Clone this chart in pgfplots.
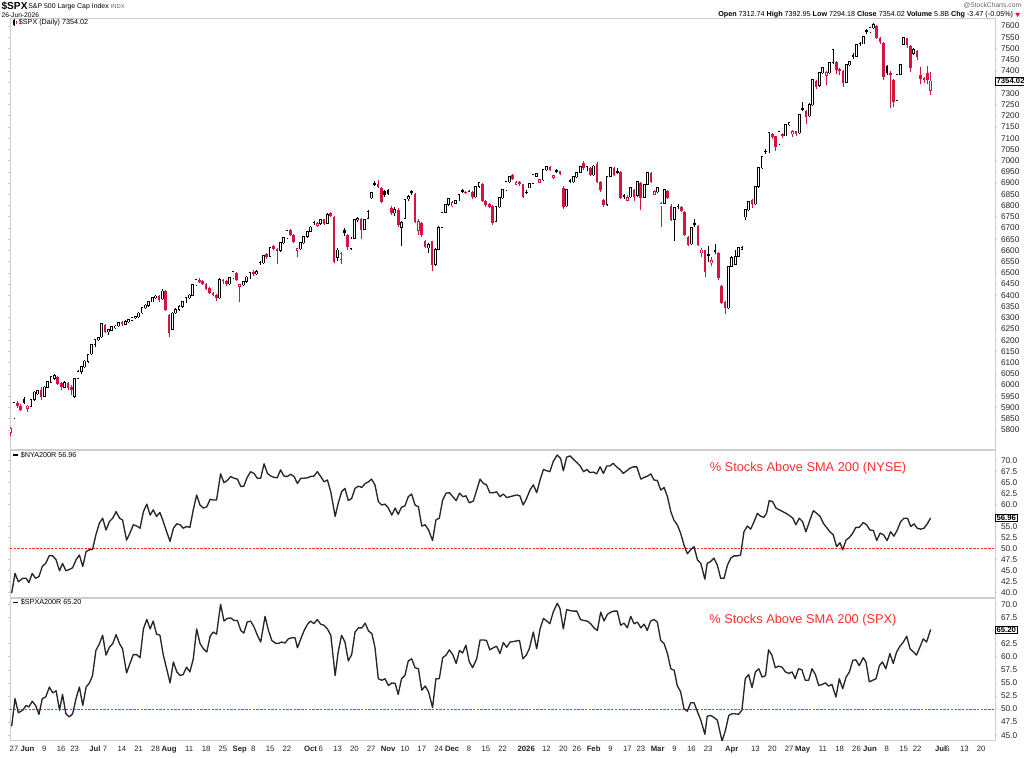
\documentclass[border=0pt]{standalone}
\usepackage{pgfplots}
\pgfplotsset{compat=1.18}
\usepackage{pgfplotstable}
\usepackage{fontspec}
\setmainfont{Liberation Sans}
\definecolor{cred}{RGB}{214,20,64}
\definecolor{tred}{RGB}{255,45,45}
\definecolor{frm}{RGB}{205,205,205}
\definecolor{txt}{RGB}{35,35,35}
\pgfplotsset{
  panel/.style={scale only axis, width=738.75pt, xmin=-1.19, xmax=291.1,
    axis line style={frm, line width=0.6pt},
    xtick=\empty, yticklabel pos=right,
    tick align=outside, major tick length=1.5pt,
    ytick style={frm, line width=0.4pt},
    yticklabel style={font=\fontsize{6.2}{7}\selectfont, text=txt, xshift=-0.5pt,
      /pgf/number format/assume math mode=true, /pgf/number format/1000 sep={}},
    clip mode=individual},
  cdl/.style={forget plot, draw=none, mark=none, restrict x to domain=-5:400},
}
\pgfplotstableread{
i o h l c k
-1 5790 5812 5775 5805 2
0 5855 5925 5848 5920 1
1 5922 5930 5898 5905 4
2 5908 5915 5885 5890 4
3 5938 5945 5915 5920 3
4 5897 5912 5880 5905 2
5 5905 5940 5900 5935 1
6 5936 5972 5930 5968 1
7 5962 5980 5955 5975 1
8 5978 5992 5935 5945 4
9 5950 5995 5945 5990 1
10 5992 6020 5985 6015 1
11 6012 6040 6008 6036 1
12 6030 6048 6022 6040 1
13 6038 6042 6000 6005 4
14 6010 6015 5980 5990 4
15 5992 6018 5985 6010 1
16 6008 6012 5978 5985 4
17 5990 5998 5955 5980 4
18 5950 6032 5942 6027 1
19 6030 6065 6025 6060 1
20 6062 6085 6050 6080 1
21 6082 6110 6075 6105 1
22 6105 6140 6098 6134 1
23 6140 6185 6135 6180 1
24 6182 6205 6170 6200 1
25 6202 6215 6195 6210 1
26 6215 6278 6210 6272 1
27 6268 6272 6230 6236 4
28 6238 6250 6225 6245 1
29 6245 6262 6240 6258 1
30 6256 6268 6250 6262 1
31 6264 6282 6258 6277 1
32 6280 6285 6262 6270 4
33 6272 6288 6266 6281 1
34 6282 6295 6276 6290 1
35 6290 6304 6284 6299 1
36 6300 6309 6295 6303 1
37 6305 6326 6300 6320 1
38 6322 6348 6318 6343 1
39 6345 6360 6338 6355 1
40 6356 6376 6350 6370 1
41 6372 6392 6368 6388 1
42 6390 6402 6383 6395 1
43 6398 6402 6372 6380 4
44 6385 6428 6380 6418 1
45 6420 6425 6330 6335 4
46 6310 6318 6215 6230 4
47 6250 6325 6245 6320 1
48 6322 6342 6315 6335 1
49 6338 6356 6330 6350 1
50 6352 6375 6345 6370 1
51 6372 6392 6365 6388 1
52 6390 6405 6384 6400 1
53 6400 6450 6395 6446 1
54 6448 6472 6442 6468 1
55 6470 6475 6455 6460 4
56 6462 6468 6444 6450 4
57 6452 6456 6425 6430 4
58 6432 6436 6405 6410 4
59 6412 6415 6395 6400 4
60 6402 6405 6375 6388 4
61 6390 6475 6385 6470 1
62 6468 6472 6450 6462 4
63 6465 6468 6440 6450 4
64 6452 6482 6448 6477 1
65 6478 6510 6472 6504 1
66 6500 6505 6465 6470 4
67 6440 6452 6370 6446 2
68 6448 6465 6440 6460 1
69 6462 6485 6455 6480 1
70 6478 6505 6472 6500 1
71 6505 6512 6488 6495 4
72 6496 6512 6490 6505 1
73 6548 6552 6535 6542 3
74 6545 6580 6540 6575 1
75 6585 6590 6562 6570 4
76 6575 6615 6570 6611 1
77 6620 6624 6600 6605 4
78 6608 6612 6540 6598 4
79 6600 6638 6595 6633 1
80 6635 6660 6630 6655 1
81 6657 6693 6650 6688 1
82 6690 6695 6662 6669 4
83 6668 6672 6632 6639 4
84 6600 6612 6570 6606 2
85 6608 6638 6602 6633 1
86 6635 6665 6628 6660 1
87 6662 6688 6656 6683 1
88 6685 6708 6680 6703 1
89 6728 6732 6715 6723 3
90 6712 6726 6706 6718 2
91 6720 6740 6715 6735 1
92 6738 6742 6712 6718 4
93 6720 6765 6716 6760 1
94 6765 6772 6748 6753 4
95 6750 6755 6545 6550 4
96 6570 6610 6555 6600 1
97 6560 6595 6540 6585 2
98 6690 6700 6665 6677 3
99 6670 6675 6600 6617 4
100 6610 6658 6600 6650 1
101 6655 6742 6650 6735 1
102 6738 6750 6725 6742 1
103 6742 6745 6650 6690 4
104 6695 6740 6690 6735 1
105 6745 6780 6740 6771 1
106 6835 6862 6830 6856 1
107 6900 6908 6885 6891 3
108 6895 6915 6878 6884 4
109 6880 6884 6810 6817 4
110 6865 6870 6840 6847 3
111 6870 6875 6845 6850 3
112 6790 6800 6760 6767 4
113 6768 6795 6755 6780 1
114 6778 6790 6705 6713 4
115 6705 6730 6620 6722 1
116 6745 6830 6740 6825 1
117 6830 6845 6820 6838 1
118 6865 6870 6848 6856 3
119 6850 6855 6720 6728 4
120 6690 6740 6670 6726 2
121 6720 6725 6660 6669 4
122 6640 6645 6610 6617 4
123 6612 6632 6590 6625 1
124 6640 6642 6510 6535 4
125 6540 6610 6530 6602 1
126 6605 6708 6600 6700 1
127 6705 6772 6698 6767 1
128 6770 6808 6765 6802 1
129 6805 6835 6800 6829 1
130 6800 6818 6795 6811 2
131 6810 6825 6805 6820 1
132 6822 6852 6818 6847 1
133 6868 6872 6855 6860 3
134 6862 6866 6850 6855 4
135 6848 6868 6845 6862 1
136 6860 6864 6830 6838 4
137 6840 6888 6835 6883 1
138 6885 6905 6880 6900 1
139 6895 6900 6815 6820 4
140 6822 6826 6795 6802 4
141 6805 6810 6788 6795 4
142 6798 6802 6715 6722 4
143 6730 6798 6725 6793 1
144 6795 6838 6790 6833 1
145 6835 6874 6830 6869 1
146 6870 6910 6865 6905 1
147 6906 6932 6900 6927 1
148 6935 6940 6915 6920 4
149 6895 6910 6890 6902 2
150 6905 6910 6888 6895 4
151 6895 6898 6832 6840 4
152 6862 6868 6850 6856 3
153 6880 6900 6876 6896 1
154 6900 6941 6895 6936 1
155 6932 6945 6928 6940 1
156 6905 6920 6900 6913 2
157 6915 6963 6910 6958 1
158 6960 6976 6955 6971 1
159 6972 6975 6952 6958 4
160 6925 6938 6920 6931 2
161 6958 6962 6945 6950 3
162 6952 6955 6935 6940 4
163 6880 6885 6785 6793 4
164 6800 6875 6795 6869 1
165 6912 6916 6900 6905 3
166 6906 6932 6900 6927 1
167 6928 6950 6922 6945 1
168 6948 6976 6944 6971 1
169 6990 6998 6958 6965 4
170 6960 6976 6955 6971 1
171 6968 6972 6930 6936 4
172 6938 6982 6932 6975 1
173 6985 6995 6900 6905 4
174 6905 6910 6862 6869 4
175 6825 6830 6795 6802 4
176 6805 6932 6800 6927 1
177 6930 6972 6925 6967 1
178 6968 6972 6930 6936 4
179 6955 6968 6940 6945 3
180 6948 6952 6828 6833 4
181 6845 6850 6830 6838 3
182 6825 6845 6820 6835 2
183 6840 6882 6835 6878 1
184 6870 6875 6820 6840 4
185 6845 6910 6840 6905 1
186 6900 6905 6780 6833 4
187 6838 6896 6832 6891 1
188 6895 6950 6890 6945 1
189 6945 6950 6900 6905 4
190 6850 6870 6845 6860 2
191 6862 6882 6855 6878 1
192 6800 6815 6705 6807 2
193 6810 6875 6805 6869 1
194 6865 6870 6828 6833 4
195 6800 6805 6730 6735 4
196 6740 6795 6640 6789 1
197 6800 6806 6785 6792 3
198 6792 6796 6770 6776 4
199 6770 6774 6662 6669 4
200 6660 6665 6618 6624 4
201 6630 6705 6625 6700 1
202 6720 6740 6705 6713 3
203 6710 6714 6618 6624 4
204 6590 6612 6570 6600 2
205 6600 6604 6480 6505 4
206 6585 6620 6550 6575 3
207 6545 6570 6530 6553 2
208 6600 6630 6585 6593 3
209 6590 6595 6470 6477 4
210 6440 6445 6360 6366 4
211 6370 6375 6315 6343 4
212 6345 6532 6340 6526 1
213 6530 6575 6525 6566 1
214 6540 6600 6535 6571 1
215 6575 6615 6570 6611 1
216 6605 6618 6600 6612 1
217 6750 6785 6735 6780 1
218 6782 6822 6776 6816 1
219 6825 6830 6790 6805 4
220 6808 6888 6802 6883 1
221 6885 6972 6880 6967 1
222 6968 7020 6962 7016 1
223 7045 7050 7030 7038 3
224 7040 7128 7035 7123 1
225 7120 7124 7095 7105 4
226 7108 7112 7045 7060 4
227 7075 7132 7070 7127 1
228 7118 7122 7102 7110 4
229 7112 7164 7108 7159 1
230 7160 7174 7155 7168 1
231 7120 7135 7105 7127 2
232 7130 7134 7110 7120 4
233 7125 7208 7120 7203 1
234 7235 7260 7220 7226 3
235 7222 7225 7165 7194 4
236 7200 7255 7195 7248 1
237 7250 7365 7245 7359 1
238 7355 7360 7320 7330 4
239 7335 7395 7330 7390 1
240 7392 7418 7386 7413 1
241 7380 7398 7337 7390 2
242 7392 7440 7388 7435 1
243 7438 7498 7432 7493 1
244 7440 7445 7385 7404 4
245 7410 7415 7380 7400 4
246 7398 7402 7330 7346 4
247 7350 7432 7345 7426 1
248 7428 7445 7420 7440 1
249 7470 7480 7455 7462 3
250 7465 7520 7460 7515 1
251 7526 7530 7512 7520 3
252 7522 7556 7518 7551 1
253 7580 7585 7566 7573 3
254 7575 7596 7570 7591 1
255 7592 7612 7588 7605 1
256 7600 7604 7540 7547 4
257 7545 7550 7520 7529 4
258 7525 7530 7360 7373 4
259 7420 7428 7380 7390 3
260 7392 7400 7234 7382 4
261 7360 7365 7240 7261 4
262 7270 7388 7265 7382 1
263 7385 7432 7380 7426 1
264 7520 7552 7515 7547 1
265 7545 7548 7500 7515 4
266 7512 7516 7395 7413 4
267 7480 7500 7470 7493 1
268 7488 7492 7450 7462 4
269 7380 7417 7340 7365 4
270 7368 7372 7345 7360 4
271 7390 7420 7340 7357.49 4
272 7312.74 7392.95 7294.18 7354.02 2
}\spx
\begin{document}
\begin{tikzpicture}
\path[use as bounding box] (0,0) rectangle (768pt,567.75pt);
% ---------------- Panel 1: candles
\begin{axis}[panel, at={(7.5pt,231pt)}, anchor=south west, height=323.25pt,
  ymin=5715, ymax=7635.7,
  ytick={5800,5850,...,7300,7400,7450,7500,7550,7600},
  extra y ticks={7350}, extra y tick labels={}, extra y tick style={ytick style={frm}}]
\addplot[cdl, error bars/.cd, y dir=plus, y explicit, error mark=none,
  error bar style={draw=black, line width=0.5pt}]
  table[x expr={ifthenelse(\thisrow{k}==1||\thisrow{k}==3,\thisrow{i},1000)}, y=l, y error expr=\thisrow{h}-\thisrow{l}] {\spx};
\addplot[cdl, error bars/.cd, y dir=plus, y explicit, error mark=none,
  error bar style={draw=cred, line width=0.5pt}]
  table[x expr={ifthenelse(\thisrow{k}==2||\thisrow{k}==4,\thisrow{i},1000)}, y=l, y error expr=\thisrow{h}-\thisrow{l}] {\spx};
\addplot[cdl, error bars/.cd, y dir=plus, y explicit, error mark=none,
  error bar style={draw=black, line width=2pt}]
  table[x expr={ifthenelse(\thisrow{k}==3,\thisrow{i},1000)}, y=c, y error expr={max(\thisrow{o}-\thisrow{c},3)}] {\spx};
\addplot[cdl, error bars/.cd, y dir=plus, y explicit, error mark=none,
  error bar style={draw=cred, line width=2pt}]
  table[x expr={ifthenelse(\thisrow{k}==4,\thisrow{i},1000)}, y=c, y error expr={max(\thisrow{o}-\thisrow{c},3)}] {\spx};
\addplot[cdl, error bars/.cd, y dir=plus, y explicit, error mark=none,
  error bar style={draw=black, line width=2pt}]
  table[x expr={ifthenelse(\thisrow{k}==1,\thisrow{i},1000)}, y expr=\thisrow{o}-3, y error expr=\thisrow{c}-\thisrow{o}+6] {\spx};
\addplot[cdl, error bars/.cd, y dir=plus, y explicit, error mark=none,
  error bar style={draw=cred, line width=2pt}]
  table[x expr={ifthenelse(\thisrow{k}==2,\thisrow{i},1000)}, y expr=\thisrow{o}-3, y error expr=\thisrow{c}-\thisrow{o}+6] {\spx};
\addplot[cdl, error bars/.cd, y dir=plus, y explicit, error mark=none,
  error bar style={draw=white, line width=0.85pt}]
  table[x expr={ifthenelse(\thisrow{k}<3,\thisrow{i},1000)}, y=o, y error expr=\thisrow{c}-\thisrow{o}] {\spx};
\node[draw=black, fill=white, inner sep=0.7pt, line width=0.4pt, anchor=west,
  font=\fontsize{5.8}{6}\selectfont\bfseries, xshift=0.3pt] at (axis cs:291.1,7354.02) {7354.02};
\end{axis}
% ---------------- Panel 2: NYSE breadth
\begin{axis}[panel, at={(7.5pt,120pt)}, anchor=south west, height=110.25pt,
  ymin=38.93, ymax=72.44,
  ytick={40,42.5,45,47.5,50,52.5,55,60,62.5,65,67.5,70},
  yticklabel style={/pgf/number format/fixed, /pgf/number format/fixed zerofill, /pgf/number format/precision=1}]
\addplot[tred, line width=0.6pt, dash pattern=on 1.8pt off 1pt] coordinates {(-1.19,50) (291.1,50)};
\addplot[black!85, line width=1pt, line join=round] coordinates {
(-0.7,39.8) (0.3,44.3) (1.3,42.4) (2.6,43.2) (3.6,43.2) (4.4,42.2) (5.4,44.3) (6.4,43.2) (7.4,43.6) (8.4,45.9) (9.4,46.6) (10.5,48.4) (11.5,48.3) (12.5,47.4) (13.5,44.9) (14.4,46.6) (15.4,44.9) (16.4,45.2) (17.4,45.6) (18.4,47.4) (19.4,48.5) (20.4,45.9) (21.4,49.3) (22.4,49.7) (23.3,49.8) (24.3,53.1) (25.3,55.7) (26.3,56.9) (27.3,54.2) (28.3,56.1) (29.3,56.9) (30.3,58.4) (31.3,56.9) (32.2,56.5) (33.4,51.9) (34.4,53.5) (35.4,55.4) (36.4,55.1) (37.4,54.6) (38.4,58.4) (39.4,60.1) (40.4,57.6) (41.3,58.8) (42.3,57.3) (43.3,58.2) (44.3,56.1) (45.3,53.8) (46.3,51.6) (47.3,54.6) (48.3,55.6) (49.3,55.4) (50.2,54.6) (51.2,55.0) (52.2,54.8) (53.2,58.8) (54.2,62.2) (55.2,59.9) (56.2,59.2) (57.2,59.5) (58.2,61.2) (59.1,61.05) (60.1,61.05) (61.3,67.0) (62.3,65.0) (63.3,65.5) (64.3,66.4) (65.3,66.0) (66.3,65.8) (67.3,64.1) (68.2,64.2) (69.2,66.2) (70.2,67.5) (71.2,67.1) (72.2,66.0) (73.2,66.0) (74.2,69.3) (75.2,67.1) (76.2,66.5) (77.2,66.2) (78.1,66.1) (79.1,67.9) (80.1,66.5) (81.1,66.4) (82.1,66.9) (83.1,66.4) (84.1,64.8) (85.1,66.0) (86.1,66.0) (87.1,66.1) (88.0,66.4) (89.0,66.5) (90.0,67.5) (91.0,66.4) (92.0,65.2) (93.0,65.6) (94.0,62.9) (95.3,57.3) (96.2,60.3) (97.2,62.9) (98.2,63.7) (99.2,60.9) (100.2,61.4) (101.2,63.7) (102.2,64.2) (103.2,63.9) (104.2,64.8) (105.2,65.2) (106.1,65.8) (107.1,64.5) (108.1,60.7) (109.1,59.9) (110.1,60.1) (111.1,59.2) (112.1,57.6) (113.1,59.2) (114.0,57.8) (115.0,59.4) (116.0,59.7) (117.0,61.8) (118.0,62.4) (119.0,59.9) (120.0,59.5) (121.0,55.1) (122.0,55.4) (123.0,54.2) (124.2,51.8) (125.2,56.5) (126.2,56.9) (127.2,61.05) (128.2,62.6) (129.2,62.7) (130.2,61.8) (131.2,60.9) (132.2,62.6) (133.2,61.8) (134.1,62.0) (135.1,60.4) (136.3,60.8) (137.3,63.3) (138.3,65.8) (139.3,64.8) (140.2,64.5) (141.2,62.7) (142.2,62.7) (143.2,62.9) (144.2,61.8) (145.2,62.4) (146.2,61.6) (147.2,61.8) (148.2,62.0) (149.1,62.2) (150.1,62.0) (151.1,59.9) (152.1,61.4) (153.1,63.3) (154.1,64.5) (155.1,62.7) (156.1,65.6) (157.1,68.0) (158.1,67.7) (159.0,67.5) (160.0,69.8) (161.2,71.3) (162.2,70.5) (163.0,67.7) (164.0,70.8) (165.0,71.1) (166.0,70.3) (167.0,69.6) (168.0,68.8) (169.0,67.5) (170.0,68.0) (170.9,67.3) (171.9,67.4) (172.9,67.0) (173.9,68.6) (174.9,67.1) (175.9,68.8) (176.8,68.8) (177.8,69.4) (178.8,68.6) (179.8,68.0) (180.8,67.1) (181.8,67.7) (182.8,68.3) (183.8,68.6) (184.8,68.6) (186.0,65.8) (187.0,66.2) (188.0,66.5) (189.0,67.0) (189.9,65.6) (190.9,65.5) (191.9,63.3) (192.9,63.9) (193.9,61.8) (194.9,58.4) (195.8,56.5) (196.8,55.4) (197.8,53.5) (198.8,50.8) (199.8,48.8) (200.8,49.7) (201.8,50.4) (202.8,47.4) (203.8,46.6) (205.0,43.0) (205.7,46.6) (206.7,47.0) (207.7,47.8) (208.7,46.2) (209.7,43.2) (210.7,43.2) (211.7,46.2) (212.7,47.8) (213.6,48.3) (214.6,48.3) (215.6,48.5) (216.6,53.8) (217.6,55.1) (218.6,54.4) (219.6,56.1) (220.6,58.0) (221.6,57.3) (222.5,57.1) (223.3,58.0) (224.1,60.9) (225.1,60.7) (226.1,59.2) (227.1,58.8) (228.1,58.4) (229.1,58.0) (230.1,57.5) (231.1,56.9) (232.0,55.4) (233.0,56.9) (234.0,56.1) (235.0,53.8) (236.0,56.1) (237.2,58.6) (238.2,58.0) (239.2,57.3) (240.2,55.7) (241.1,54.8) (242.1,53.8) (243.1,53.1) (244.1,50.4) (245.1,51.3) (245.9,49.7) (246.9,51.9) (247.9,52.5) (248.9,53.5) (249.8,54.8) (250.8,54.8) (252.0,55.9) (253.0,55.4) (254.0,54.2) (255.0,54.1) (256.0,51.8) (257.0,53.5) (258.0,53.1) (259.1,51.8) (260.1,53.8) (261.1,52.8) (262.1,54.2) (263.1,56.1) (264.1,56.9) (265.1,56.9) (266.1,55.0) (267.1,55.6) (268.0,54.6) (269.0,54.4) (270.0,54.6) (271.0,55.6) (272.0,56.96)};
\node[font=\fontsize{9.6}{11}\selectfont, text=tred] at (axis cs:235.6,68.3) {\% Stocks Above SMA 200 (NYSE)};
\node[draw=black, fill=white, inner sep=0.7pt, line width=0.4pt, anchor=west,
  font=\fontsize{5.8}{6}\selectfont\bfseries, xshift=0.3pt] at (axis cs:291.1,56.96) {56.96};
\end{axis}
% ---------------- Panel 3: SPX breadth
\begin{axis}[panel, at={(7.5pt,12.75pt)}, anchor=south west, height=106.5pt,
  ymin=44.1, ymax=71.2,
  ytick={45,47.5,50,52.5,55,57.5,60,62.5,67.5,70},
  yticklabel style={/pgf/number format/fixed, /pgf/number format/fixed zerofill, /pgf/number format/precision=1},
  xtick={0,4,9,14,18,24,27,32,37,42,46,52,57,62,67,71,76,81,88,91,96,101,106,111,116,121,126,130,135,140,145,152,158,163,167,172,177,182,186,191,196,201,206,213,220,225,230,234,240,245,250,254,259,264,268,275,277,282,287},
  xticklabels={27,\textbf{Jun},9,16,23,\textbf{Jul},7,14,21,28,\textbf{Aug},11,18,25,\textbf{Sep},8,15,22,\textbf{Oct},6,13,20,27,\textbf{Nov},10,17,24,\textbf{Dec},8,15,22,\textbf{2026},12,20,26,\textbf{Feb},9,17,23,\textbf{Mar},9,16,23,\textbf{Apr},13,20,27,\textbf{May},11,18,26,\textbf{Jun},8,15,22,\textbf{Jul},6,13,20},
  xtick style={draw=none},
  xticklabel style={font=\fontsize{5.8}{6}\selectfont, text=txt, yshift=0.5pt}]
\addplot[tred, line width=0.6pt, dash pattern=on 1.8pt off 1pt] coordinates {(-1.19,50) (291.1,50)};
\addplot[black!85, line width=1pt, line join=round] coordinates {
(-0.7,46.7) (0.3,52.0) (1.3,49.3) (2.6,49.8) (3.6,50.7) (4.4,50.4) (5.4,51.5) (6.4,50.7) (7.4,49.0) (8.4,52.0) (9.4,52.3) (10.5,54.2) (11.5,53.1) (12.5,53.5) (13.5,49.8) (14.4,52.8) (15.4,49.1) (16.4,48.5) (17.4,49.1) (18.4,52.0) (19.4,54.2) (20.4,50.7) (21.4,54.2) (22.4,55.0) (23.3,56.4) (24.3,61.2) (25.3,62.4) (26.3,64.1) (27.3,60.3) (28.3,61.8) (29.3,62.5) (30.3,64.2) (31.3,62.5) (32.2,61.5) (33.4,56.9) (34.4,58.7) (35.4,60.4) (36.4,60.4) (37.4,59.8) (38.4,65.3) (39.4,67.1) (40.4,65.3) (41.3,66.8) (42.3,64.3) (43.3,64.1) (44.3,60.3) (45.3,57.7) (46.3,55.0) (47.3,59.0) (48.3,57.1) (49.3,56.4) (50.2,56.6) (51.2,58.0) (52.2,57.1) (53.2,59.6) (54.2,65.3) (55.2,62.5) (56.2,61.5) (57.2,60.9) (58.2,63.9) (59.1,64.7) (60.1,64.3) (61.3,70.0) (62.3,66.8) (63.3,67.3) (64.3,67.4) (65.3,66.9) (66.3,66.9) (67.3,65.0) (68.2,64.5) (69.2,66.6) (70.2,66.8) (71.2,65.7) (72.2,64.1) (73.2,62.8) (74.5,67.7) (75.5,65.0) (76.5,63.1) (77.5,62.6) (78.4,62.5) (79.4,62.8) (80.4,62.6) (81.4,63.4) (82.4,63.6) (83.4,63.6) (84.1,61.7) (85.1,63.4) (86.1,65.0) (87.1,66.2) (88.0,66.8) (89.0,66.3) (90.0,67.1) (91.0,66.2) (92.0,66.0) (93.0,65.3) (94.0,64.1) (95.3,56.4) (96.2,60.9) (97.2,64.1) (98.2,62.8) (99.2,59.2) (100.2,60.4) (101.2,64.7) (102.2,65.5) (103.2,65.5) (104.2,66.4) (105.2,64.9) (106.2,64.4) (107.1,61.8) (108.1,55.8) (109.1,55.5) (110.1,55.8) (111.1,54.5) (112.1,55.0) (113.1,54.9) (114.0,52.8) (115.0,55.8) (116.0,56.4) (117.0,59.2) (118.0,59.6) (119.0,57.9) (120.0,57.7) (121.0,53.6) (122.0,54.4) (123.0,53.3) (124.2,50.3) (125.2,55.8) (126.2,55.8) (127.2,59.8) (128.2,60.3) (129.2,61.3) (130.2,60.4) (131.2,58.7) (132.2,61.2) (133.1,60.7) (134.1,62.2) (135.1,59.0) (136.1,57.9) (137.3,59.6) (138.3,63.2) (139.3,63.2) (140.2,63.1) (141.2,61.3) (142.2,61.7) (143.2,62.0) (144.2,60.6) (145.2,62.7) (146.2,61.8) (147.2,62.8) (148.2,62.9) (150.0,63.1) (151.0,59.6) (152.0,60.3) (152.9,61.5) (154.1,64.7) (155.1,61.5) (156.1,65.3) (157.1,67.3) (158.1,66.8) (159.0,66.3) (160.0,68.5) (161.2,70.2) (162.0,69.2) (163.0,65.3) (164.0,69.0) (165.0,68.8) (166.0,68.7) (167.0,68.7) (168.1,67.1) (169.1,66.9) (170.1,66.8) (171.1,66.3) (172.1,65.5) (173.1,65.0) (174.1,68.5) (175.1,66.8) (176.1,68.1) (177.1,68.5) (178.0,68.7) (179.0,68.7) (180.0,66.0) (181.0,66.4) (182.0,65.5) (183.0,67.7) (184.0,66.3) (185.0,66.6) (186.0,65.5) (187.0,66.2) (187.9,65.0) (188.9,66.8) (189.9,67.1) (190.9,66.6) (191.9,63.1) (192.9,62.5) (193.9,60.6) (194.9,57.7) (195.9,57.4) (196.8,54.5) (197.8,53.3) (198.8,50.1) (199.8,49.6) (200.8,51.2) (201.8,51.2) (202.8,49.5) (203.8,47.9) (205.0,45.2) (205.7,48.6) (206.7,48.8) (207.7,48.4) (208.7,47.9) (210.1,43.9) (211.1,45.9) (212.1,48.8) (213.1,49.1) (214.0,49.1) (215.0,49.0) (216.0,49.8) (217.0,55.8) (218.0,56.6) (219.0,54.1) (220.0,57.1) (221.0,57.7) (222.0,56.1) (223.0,56.4) (223.9,61.3) (224.9,60.3) (225.9,57.9) (226.9,58.2) (227.9,58.0) (228.9,57.1) (229.9,56.8) (230.9,57.1) (231.8,55.8) (232.8,57.7) (233.8,57.5) (234.8,55.5) (235.8,55.5) (236.8,57.7) (237.8,56.6) (238.8,54.5) (239.8,54.7) (240.8,55.0) (241.7,54.4) (242.7,54.7) (243.9,52.3) (244.9,55.8) (245.9,53.9) (246.9,56.1) (247.9,57.1) (248.9,59.3) (249.8,59.4) (250.8,58.3) (252.0,59.8) (252.8,59.0) (253.8,55.2) (254.8,55.5) (255.8,55.8) (256.8,58.3) (257.7,59.0) (258.7,57.7) (259.9,60.6) (260.9,58.7) (261.9,60.9) (262.9,62.0) (263.9,62.8) (264.9,63.9) (265.9,61.5) (266.9,60.9) (267.8,60.3) (268.8,61.8) (269.8,63.4) (270.8,62.8) (272.0,65.2)};
\node[font=\fontsize{9.6}{11}\selectfont, text=tred] at (axis cs:234.1,66.95) {\% Stocks Above SMA 200 (SPX)};
\node[draw=black, fill=white, inner sep=0.7pt, line width=0.4pt, anchor=west,
  font=\fontsize{5.8}{6}\selectfont\bfseries, xshift=0.3pt] at (axis cs:291.1,65.2) {65.20};
\end{axis}
% ---------------- header and panel captions
\node[anchor=west, inner sep=0pt, font=\fontsize{7.6}{8}\selectfont\bfseries] at (1pt,563pt) {\$SPX};
\node[anchor=west, inner sep=0pt, font=\fontsize{5.2}{6}\selectfont] at (21pt,563pt) {S\&P 500 Large Cap Index \textcolor{black!60}{\fontsize{4.4}{5}\selectfont INDX}};
\node[anchor=west, inner sep=0pt, font=\fontsize{5}{6}\selectfont] at (1pt,556.5pt) {26-Jun-2026};
\node[anchor=east, inner sep=0pt, font=\fontsize{5}{6}\selectfont, text=black!60] at (766pt,563.5pt) {@StockCharts.com};
\node[anchor=east, inner sep=0pt, font=\fontsize{5.4}{6}\selectfont] at (760pt,556.5pt) {\textbf{Open} 7312.74 \textbf{High} 7392.95 \textbf{Low} 7294.18 \textbf{Close} 7354.02 \textbf{Volume} 5.8B \textbf{Chg} -3.47 (-0.05\%)};
\fill[cred] (761.5pt,558pt) -- (765pt,558pt) -- (763.25pt,555pt) -- cycle;
\fill[black] (10pt,549pt) rectangle (11pt,552.5pt);
\draw[black, line width=0.3pt] (10.5pt,548pt) -- (10.5pt,553.5pt);
\fill[cred] (12pt,549.5pt) rectangle (13pt,552pt);
\node[anchor=west, inner sep=0pt, font=\fontsize{5.4}{6}\selectfont] at (14pt,550.5pt) {\$SPX (Daily) 7354.02};
\draw[black, line width=0.8pt] (10pt,226.5pt) -- (13.5pt,226.5pt);
\node[anchor=west, inner sep=0pt, font=\fontsize{5.4}{6}\selectfont] at (15.5pt,226.5pt) {\$NYA200R 56.96};
\draw[black, line width=0.8pt] (10pt,116.2pt) -- (13.5pt,116.2pt);
\node[anchor=west, inner sep=0pt, font=\fontsize{5.4}{6}\selectfont] at (15.5pt,116.2pt) {\$SPXA200R 65.20};
\end{tikzpicture}
\end{document}
